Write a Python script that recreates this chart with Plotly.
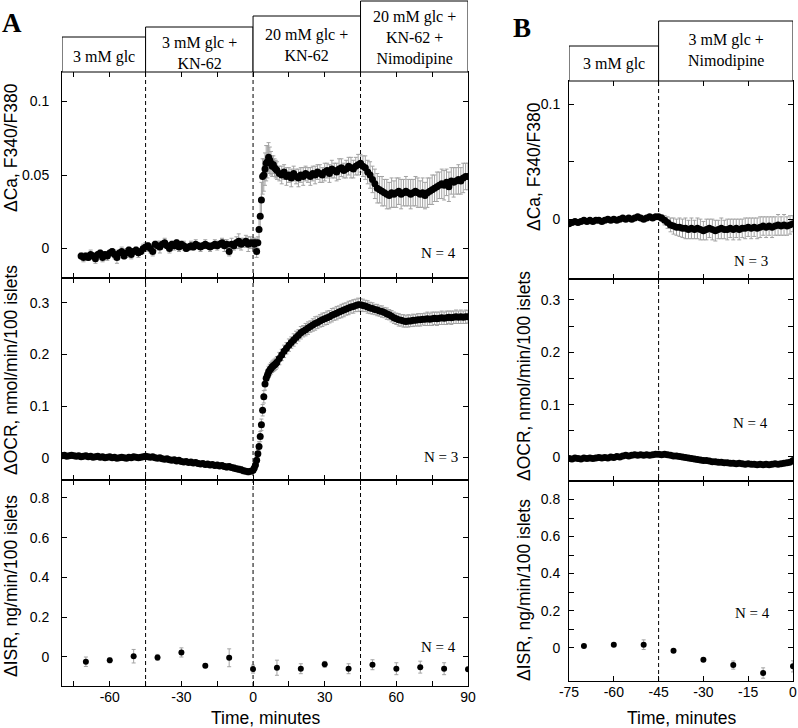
import numpy as np
import plotly.graph_objects as go

# ---------------- DATA ----------------
# Panel A : time grid pieces (minutes)
A_ca_time = np.concatenate([np.arange(-72, 0, 1.0), np.arange(0, 10, 0.5), np.arange(10, 91, 1.0)])
A_ca = [
    -0.005,-0.006,-0.005,-0.006,-0.004,-0.005,-0.007,-0.004,-0.003,-0.006,-0.004,-0.005,-0.003,-0.002,-0.004,-0.006,-0.003,-0.002,-0.005,-0.003,-0.001,-0.004,-0.002,-0.001,-0.003,-0.002,0.000,
    0.001,0.002,0.000,-0.002,0.003,0.002,0.001,0.003,0.004,0.002,0.000,0.003,0.002,0.004,0.001,0.003,0.002,0.000,0.001,0.002,
    0.001,0.003,0.002,0.001,0.002,0.003,0.002,0.001,0.002,0.003,0.002,0.003,0.004,0.002,0.003,-0.002,0.003,0.002,0.004,0.005,
    0.003,0.004,0.005,0.003,0.004,
    0.004,0.003,0.004,-0.002,0.004,0.013,0.022,0.033,0.049,0.050,0.054,0.058,0.059,0.062,0.060,0.058,0.056,0.057,0.055,0.054,
    0.053,0.051,0.050,0.052,0.049,0.050,0.048,0.051,0.049,0.048,
    0.050,0.049,0.051,0.050,0.049,0.051,0.050,0.052,0.051,0.050,
    0.052,0.053,0.051,0.054,0.053,0.052,0.054,0.055,0.053,0.054,
    0.056,0.055,0.054,0.056,0.057,0.058,0.056,0.055,0.052,0.050,
    0.047,0.044,0.041,0.040,0.039,0.038,0.037,0.036,0.038,0.037,
    0.038,0.039,0.037,0.038,0.039,0.038,0.037,0.038,0.039,0.038,
    0.037,0.038,0.036,0.038,0.039,0.040,0.041,0.042,0.043,0.044,
    0.043,0.045,0.042,0.046,0.045,0.046,0.047,0.046,0.048,0.049,
    0.049]
A_ca_err = [
    0.002,0.003,0.002,0.002,0.003,0.002,0.003,0.002,0.002,0.003,0.002,0.003,0.002,0.002,0.003,0.004,0.002,0.003,0.002,0.003,0.002,0.003,0.002,0.002,0.003,0.002,0.003,
    0.003,0.002,0.003,0.003,0.002,0.003,0.004,0.002,0.003,0.002,0.003,0.002,0.003,0.002,0.003,0.002,0.003,0.002,0.002,0.003,
    0.002,0.003,0.002,0.003,0.002,0.003,0.002,0.003,0.002,0.003,0.003,0.002,0.003,0.004,0.003,0.003,0.004,0.003,0.004,0.005,
    0.004,0.003,0.004,0.005,0.004,
    0.003,0.004,0.003,0.004,0.004,0.008,0.010,0.012,0.012,0.011,0.011,0.012,0.011,0.010,0.009,0.008,0.007,0.006,0.006,0.006,
    0.006,0.005,0.006,0.005,0.006,0.005,0.006,0.005,0.005,0.006,
    0.005,0.006,0.005,0.005,0.006,0.005,0.006,0.005,0.006,0.005,
    0.006,0.005,0.006,0.006,0.005,0.006,0.007,0.006,0.005,0.006,
    0.006,0.007,0.006,0.006,0.007,0.006,0.007,0.008,0.008,0.009,
    0.009,0.010,0.010,0.009,0.010,0.009,0.010,0.009,0.010,0.009,
    0.010,0.009,0.010,0.009,0.010,0.009,0.010,0.009,0.010,0.010,
    0.009,0.010,0.009,0.010,0.009,0.010,0.009,0.010,0.009,0.010,
    0.010,0.009,0.010,0.009,0.010,0.009,0.010,0.009,0.010,0.009,
    0.009]

A_ocr_time = np.concatenate([np.arange(-80, 0, 1.0), np.arange(0, 10, 0.5), np.arange(10, 91, 1.0)])
A_ocr = [
    0.004,0.005,0.003,0.004,0.005,0.004,0.003,0.004,0.002,0.003,
    0.004,0.002,0.003,0.001,0.002,0.003,0.001,0.002,0.000,0.001,
    0.002,0.000,0.001,-0.001,0.000,0.001,0.000,-0.001,0.001,0.000,
    0.002,0.001,0.000,0.001,0.002,
    0.003,0.002,0.001,0.002,0.000,-0.001,0.000,-0.002,-0.003,-0.002,
    -0.004,-0.005,-0.004,-0.006,-0.005,-0.007,-0.008,-0.007,-0.009,-0.008,
    -0.010,-0.009,-0.011,-0.012,-0.011,-0.013,-0.012,-0.014,-0.013,-0.015,
    -0.014,-0.016,-0.015,-0.017,-0.018,-0.017,-0.019,-0.020,-0.021,-0.022,
    -0.023,-0.025,-0.026,-0.027,-0.026,
    -0.024,-0.020,-0.014,-0.005,0.008,0.022,0.041,0.064,0.092,0.118,0.143,0.154,0.160,0.166,0.170,0.173,0.176,0.178,0.180,0.182,
    0.185,0.192,0.199,0.206,0.212,0.218,0.223,0.228,0.233,0.237,
    0.242,0.245,0.248,0.251,0.254,0.257,0.260,0.262,0.265,0.267,
    0.269,0.271,0.273,0.276,0.278,0.280,0.282,0.284,0.286,0.288,
    0.290,0.292,0.293,0.295,0.296,0.296,0.295,0.294,0.292,0.290,
    0.289,0.287,0.286,0.284,0.283,0.281,0.279,0.277,0.274,0.271,
    0.269,0.267,0.266,0.265,0.264,0.265,0.265,0.266,0.266,0.267,
    0.267,0.268,0.268,0.269,0.268,0.269,0.270,0.269,0.270,0.271,
    0.270,0.271,0.272,0.271,0.272,0.273,0.272,0.273,0.272,0.273,
    0.273]
A_ocr_err = [
    0.003,0.003,0.002,0.003,0.003,0.002,0.003,0.003,0.002,0.003,
    0.003,0.002,0.003,0.003,0.002,0.003,0.003,0.002,0.003,0.003,
    0.002,0.003,0.003,0.002,0.003,0.003,0.002,0.003,0.003,0.002,
    0.003,0.003,0.002,0.003,0.003,
    0.003,0.003,0.004,0.003,0.003,0.004,0.003,0.003,0.004,0.003,
    0.004,0.003,0.004,0.004,0.003,0.004,0.004,0.003,0.004,0.004,
    0.004,0.004,0.005,0.004,0.004,0.005,0.004,0.005,0.004,0.005,
    0.005,0.004,0.005,0.005,0.006,0.005,0.005,0.006,0.005,0.006,
    0.006,0.006,0.005,0.006,0.005,
    0.005,0.005,0.006,0.007,0.008,0.009,0.010,0.011,0.011,0.012,0.012,0.011,0.011,0.011,0.011,0.011,0.011,0.011,0.011,0.011,
    0.011,0.012,0.011,0.012,0.011,0.012,0.011,0.012,0.012,0.011,
    0.012,0.011,0.012,0.012,0.011,0.012,0.013,0.012,0.012,0.013,
    0.012,0.013,0.012,0.013,0.012,0.013,0.012,0.013,0.013,0.012,
    0.013,0.012,0.013,0.012,0.013,0.012,0.012,0.011,0.012,0.011,
    0.011,0.010,0.011,0.010,0.011,0.010,0.011,0.010,0.011,0.011,
    0.011,0.012,0.011,0.012,0.011,0.012,0.011,0.012,0.011,0.012,
    0.012,0.011,0.012,0.013,0.012,0.013,0.012,0.013,0.012,0.013,
    0.012,0.013,0.012,0.013,0.012,0.013,0.012,0.013,0.012,0.013,
    0.012]

A_isr_time = [-70, -60, -50, -40, -30, -20, -10, 0, 10, 20, 30, 40, 50, 60, 70, 80, 90]
A_isr = [-0.025, -0.018, 0.003, -0.003, 0.022, -0.045, -0.005, -0.062, -0.055, -0.060, -0.038, -0.060, -0.040, -0.060, -0.052, -0.060, -0.063]
A_isr_err = [0.024, 0.012, 0.034, 0.015, 0.023, 0.010, 0.045, 0.020, 0.038, 0.025, 0.015, 0.025, 0.025, 0.030, 0.030, 0.030, 0.010]

# Panel B
B_time = np.arange(-75, 1, 1.0)
B_ca = [
    -0.004,-0.003,-0.002,-0.003,-0.002,-0.001,-0.002,-0.001,-0.002,-0.001,
    -0.001,-0.002,-0.001,0.000,-0.001,0.000,-0.001,0.000,0.001,0.000,
    0.001,0.000,0.001,0.002,0.001,0.000,0.001,0.002,0.001,0.002,
    0.002,0.001,-0.001,-0.003,-0.005,-0.006,-0.007,-0.007,-0.008,-0.008,
    -0.009,-0.008,-0.009,-0.008,-0.009,-0.010,-0.009,-0.008,-0.009,-0.010,
    -0.009,-0.008,-0.009,-0.009,-0.008,-0.009,-0.008,-0.009,-0.008,-0.008,
    -0.007,-0.008,-0.007,-0.008,-0.007,-0.006,-0.007,-0.006,-0.007,-0.006,
    -0.005,-0.006,-0.005,-0.006,-0.005,-0.004]
B_ca_err = [
    0.001,0.002,0.001,0.002,0.001,0.002,0.001,0.002,0.001,0.002,
    0.002,0.001,0.002,0.001,0.002,0.002,0.001,0.002,0.001,0.002,
    0.002,0.001,0.002,0.002,0.001,0.002,0.002,0.001,0.002,0.002,
    0.002,0.003,0.004,0.005,0.006,0.007,0.007,0.008,0.008,0.009,
    0.008,0.009,0.008,0.009,0.009,0.008,0.009,0.008,0.009,0.009,
    0.008,0.009,0.008,0.009,0.008,0.009,0.008,0.009,0.008,0.009,
    0.008,0.009,0.008,0.009,0.009,0.008,0.009,0.008,0.009,0.008,
    0.009,0.008,0.009,0.008,0.008,0.007]

B_ocr = [
    -0.003,-0.004,-0.002,-0.003,-0.004,-0.002,-0.003,-0.002,-0.003,-0.002,
    -0.001,-0.002,-0.001,-0.002,0.000,-0.001,0.001,0.000,0.002,0.003,
    0.002,0.003,0.004,0.003,0.004,0.003,0.004,0.003,0.004,0.005,
    0.005,0.004,0.005,0.004,0.003,0.002,0.002,0.001,0.000,-0.001,
    -0.002,-0.003,-0.004,-0.005,-0.006,-0.007,-0.007,-0.008,-0.009,-0.009,
    -0.010,-0.010,-0.011,-0.011,-0.012,-0.012,-0.013,-0.012,-0.013,-0.014,
    -0.013,-0.014,-0.014,-0.015,-0.014,-0.015,-0.014,-0.015,-0.014,-0.013,
    -0.014,-0.013,-0.012,-0.011,-0.010,-0.007]
B_ocr_err = [
    0.002,0.003,0.002,0.003,0.002,0.003,0.002,0.003,0.002,0.003,
    0.002,0.003,0.002,0.003,0.002,0.003,0.002,0.003,0.002,0.003,
    0.002,0.003,0.002,0.003,0.002,0.003,0.002,0.003,0.002,0.003,
    0.003,0.003,0.002,0.003,0.003,0.002,0.003,0.003,0.002,0.003,
    0.003,0.002,0.003,0.003,0.002,0.003,0.003,0.002,0.003,0.003,
    0.002,0.003,0.003,0.002,0.003,0.003,0.002,0.003,0.003,0.002,
    0.003,0.003,0.002,0.003,0.003,0.002,0.003,0.003,0.002,0.003,
    0.003,0.002,0.003,0.003,0.002,0.004]

B_isr_time = [-70, -60, -50, -40, -30, -20, -10, 0]
B_isr = [0.009, 0.016, 0.016, -0.016, -0.065, -0.094, -0.137, -0.101]
B_isr_err = [0.004, 0.008, 0.026, 0.004, 0.005, 0.022, 0.028, 0.030]

# phases (header boxes)
A_phase_edges = [-80, -45, 0, 45, 90]
A_phase_labels = ["3 mM glc", "3 mM glc +<br>KN-62", "20 mM glc +<br>KN-62", "20 mM glc +<br>KN-62 +<br>Nimodipine"]
B_phase_edges = [-75, -45, 0]
B_phase_labels = ["3 mM glc", "3 mM glc +<br>Nimodipine"]

# tick labels
A_x_ticks = [-75, -60, -45, -30, -15, 0, 15, 30, 45, 60, 75, 90]
A_x_ticklabels = ["", "-60", "", "-30", "", "0", "", "30", "", "60", "", "90"]
B_x_ticks = [-75, -60, -45, -30, -15, 0]
B_x_ticklabels = ["-75", "-60", "-45", "-30", "-15", "0"]

# ---------------- LAYOUT HELPERS ----------------
W, H = 798, 728
def px(x): return x / W
def py(y): return 1 - y / H

SANS = "Liberation Sans, Arial, Helvetica, sans-serif"
SERIF = "Liberation Serif, Times New Roman, serif"
GRAY = "#a3a3a3"

fig = go.Figure()

def add_series(t, y, e, xa, ya, size=7):
    fig.add_trace(go.Scatter(
        x=t, y=y, mode="markers", xaxis=xa, yaxis=ya,
        marker=dict(color="black", size=size, line=dict(width=0)),
        error_y=dict(type="data", array=e, color=GRAY, thickness=1, width=2),
        showlegend=False, hoverinfo="skip"))

add_series(A_ca_time, A_ca, A_ca_err, "x", "y")
add_series(A_ocr_time, A_ocr, A_ocr_err, "x2", "y2")
add_series(A_isr_time, A_isr, A_isr_err, "x3", "y3", size=6)
add_series(B_time, B_ca, B_ca_err, "x4", "y4")
add_series(B_time, B_ocr, B_ocr_err, "x5", "y5")
add_series(B_isr_time, B_isr, B_isr_err, "x6", "y6", size=6)

def base_axis():
    return dict(ticks="inside", ticklen=5, tickwidth=1, tickcolor="black",
                showline=True, linecolor="black", linewidth=1, mirror="ticks",
                showgrid=False, zeroline=False, tickmode="array", automargin=False,
                tickfont=dict(family=SANS, size=14, color="black"))

def xax(dom, rng, anchor, tv, tt, show):
    d = base_axis()
    d.update(domain=[px(dom[0]), px(dom[1])], range=rng, anchor=anchor,
             tickvals=tv, ticktext=tt, showticklabels=show, ticklabelstandoff=-2)
    return d

def yax(dom, rng, anchor, tv, tt, standoff):
    d = base_axis()
    d.update(domain=[py(dom[1]), py(dom[0])], range=rng, anchor=anchor,
             tickvals=tv, ticktext=tt, ticklabelstandoff=standoff)
    return d

A_X = (62, 468)
B_X = (569, 793)
A_rows = [(72, 278), (278, 480), (480, 686)]
B_rows = [(81, 279), (279, 481), (481, 681)]

layout = dict(
    width=W, height=H, margin=dict(l=0, r=0, t=0, b=0, autoexpand=False),
    paper_bgcolor="white", plot_bgcolor="white", showlegend=False,
    xaxis=xax(A_X, [-80, 90], "y", A_x_ticks, A_x_ticklabels, False),
    xaxis2=xax(A_X, [-80, 90], "y2", A_x_ticks, A_x_ticklabels, False),
    xaxis3=xax(A_X, [-80, 90], "y3", A_x_ticks, A_x_ticklabels, True),
    xaxis4=xax(B_X, [-75, 0], "y4", B_x_ticks, B_x_ticklabels, False),
    xaxis5=xax(B_X, [-75, 0], "y5", B_x_ticks, B_x_ticklabels, False),
    xaxis6=xax(B_X, [-75, 0], "y6", B_x_ticks, B_x_ticklabels, True),
    yaxis=yax(A_rows[0], [-0.02, 0.12], "x", [0, 0.05, 0.1], ["0", "0.05", "0.1"], 9),
    yaxis2=yax(A_rows[1], [-0.043, 0.348], "x2", [0, 0.1, 0.2, 0.3], ["0", "0.1", "0.2", "0.3"], 9),
    yaxis3=yax(A_rows[2], [-0.147, 0.89], "x3", [0, 0.2, 0.4, 0.6, 0.8], ["0", "0.2", "0.4", "0.6", "0.8"], 9),
    yaxis4=yax(B_rows[0], [-0.052, 0.12], "x4", [0, 0.05, 0.1], ["0", "", "0.1"], 5),
    yaxis5=yax(B_rows[1], [-0.046, 0.34], "x5", [0, 0.05, 0.1, 0.15, 0.2, 0.25, 0.3], ["0", "", "0.1", "", "0.2", "", "0.3"], 5),
    yaxis6=yax(B_rows[2], [-0.18, 0.9], "x6", [0, 0.1, 0.2, 0.3, 0.4, 0.5, 0.6, 0.7, 0.8], ["0", "", "0.2", "", "0.4", "", "0.6", "", "0.8"], 5),
)

shapes = []
annotations = []

# header boxes
A_box_tops = [37, 27, 16, 1]
A_text_y = [57, 53, 45, 38]
for i, lab in enumerate(A_phase_labels):
    x0, x1 = A_phase_edges[i], A_phase_edges[i + 1]
    shapes.append(dict(type="rect", xref="x", yref="paper", x0=x0, x1=x1,
                       y0=py(72), y1=py(A_box_tops[i]), line=dict(color="black", width=1),
                       fillcolor="white", layer="above"))
    annotations.append(dict(x=(x0 + x1) / 2, y=py(A_text_y[i]), xref="x", yref="paper",
                            text=lab, showarrow=False, xanchor="center", yanchor="middle",
                            font=dict(family=SERIF, size=16, color="black")))
B_box_tops = [46, 21]
B_text_y = [64, 51]
for i, lab in enumerate(B_phase_labels):
    x0, x1 = B_phase_edges[i], B_phase_edges[i + 1]
    shapes.append(dict(type="rect", xref="x4", yref="paper", x0=x0, x1=x1,
                       y0=py(81), y1=py(B_box_tops[i]), line=dict(color="black", width=1),
                       fillcolor="white", layer="above"))
    annotations.append(dict(x=(x0 + x1) / 2, y=py(B_text_y[i]), xref="x4", yref="paper",
                            text=lab, showarrow=False, xanchor="center", yanchor="middle",
                            font=dict(family=SERIF, size=16, color="black")))

# dashed phase boundaries
for e in A_phase_edges[1:-1]:
    shapes.append(dict(type="line", xref="x", yref="paper", x0=e, x1=e, y0=py(686), y1=py(72),
                       line=dict(color="black", width=1, dash="4px,3px"), layer="above"))
for e in B_phase_edges[1:-1]:
    shapes.append(dict(type="line", xref="x4", yref="paper", x0=e, x1=e, y0=py(681), y1=py(81),
                       line=dict(color="black", width=1, dash="4px,3px"), layer="above"))

# thick separators between stacked panels
for yy in (278, 480):
    shapes.append(dict(type="line", xref="paper", yref="paper", x0=px(62), x1=px(468), y0=py(yy), y1=py(yy),
                       line=dict(color="black", width=2), layer="above"))
for yy in (279, 481):
    shapes.append(dict(type="line", xref="paper", yref="paper", x0=px(569), x1=px(793), y0=py(yy), y1=py(yy),
                       line=dict(color="black", width=2), layer="above"))

def ann(x, y, text, font, angle=0, xanchor="center", yanchor="middle"):
    annotations.append(dict(x=px(x), y=py(y), xref="paper", yref="paper", text=text,
                            showarrow=False, textangle=angle, xanchor=xanchor, yanchor=yanchor,
                            font=font))

tfont = dict(family=SANS, size=17.5, color="black")
ann(11, 148, "ΔCa, F340/F380", tfont, -90)
ann(11, 370, "ΔOCR, nmol/min/100 islets", tfont, -90)
ann(11, 586, "ΔISR, ng/min/100 islets", tfont, -90)
ann(534, 167, "ΔCa, F340/F380", tfont, -90)
ann(524, 376, "ΔOCR, nmol/min/100 islets", tfont, -90)
ann(524, 590, "ΔISR, ng/min/100 islets", tfont, -90)
ann(265, 718, "Time, minutes", tfont)
ann(681, 718, "Time, minutes", tfont)

nfont = dict(family=SERIF, size=15, color="black")
ann(458, 253, "N = 4", nfont, xanchor="right")
ann(460, 457, "N = 3", nfont, xanchor="right")
ann(458, 647, "N = 4", nfont, xanchor="right")
ann(770, 261, "N = 3", nfont, xanchor="right")
ann(770, 423, "N = 4", nfont, xanchor="right")
ann(772, 613, "N = 4", nfont, xanchor="right")

lfont = dict(family=SERIF, size=27, color="black", weight="bold")
ann(12, 23, "<b>A</b>", lfont)
ann(522, 28, "<b>B</b>", lfont)

layout["shapes"] = shapes
layout["annotations"] = annotations
fig.update_layout(**layout)

fig.write_html("out.html", config={"displayModeBar": False},
               post_script="document.body.style.margin='0';document.body.style.overflow='hidden';")
